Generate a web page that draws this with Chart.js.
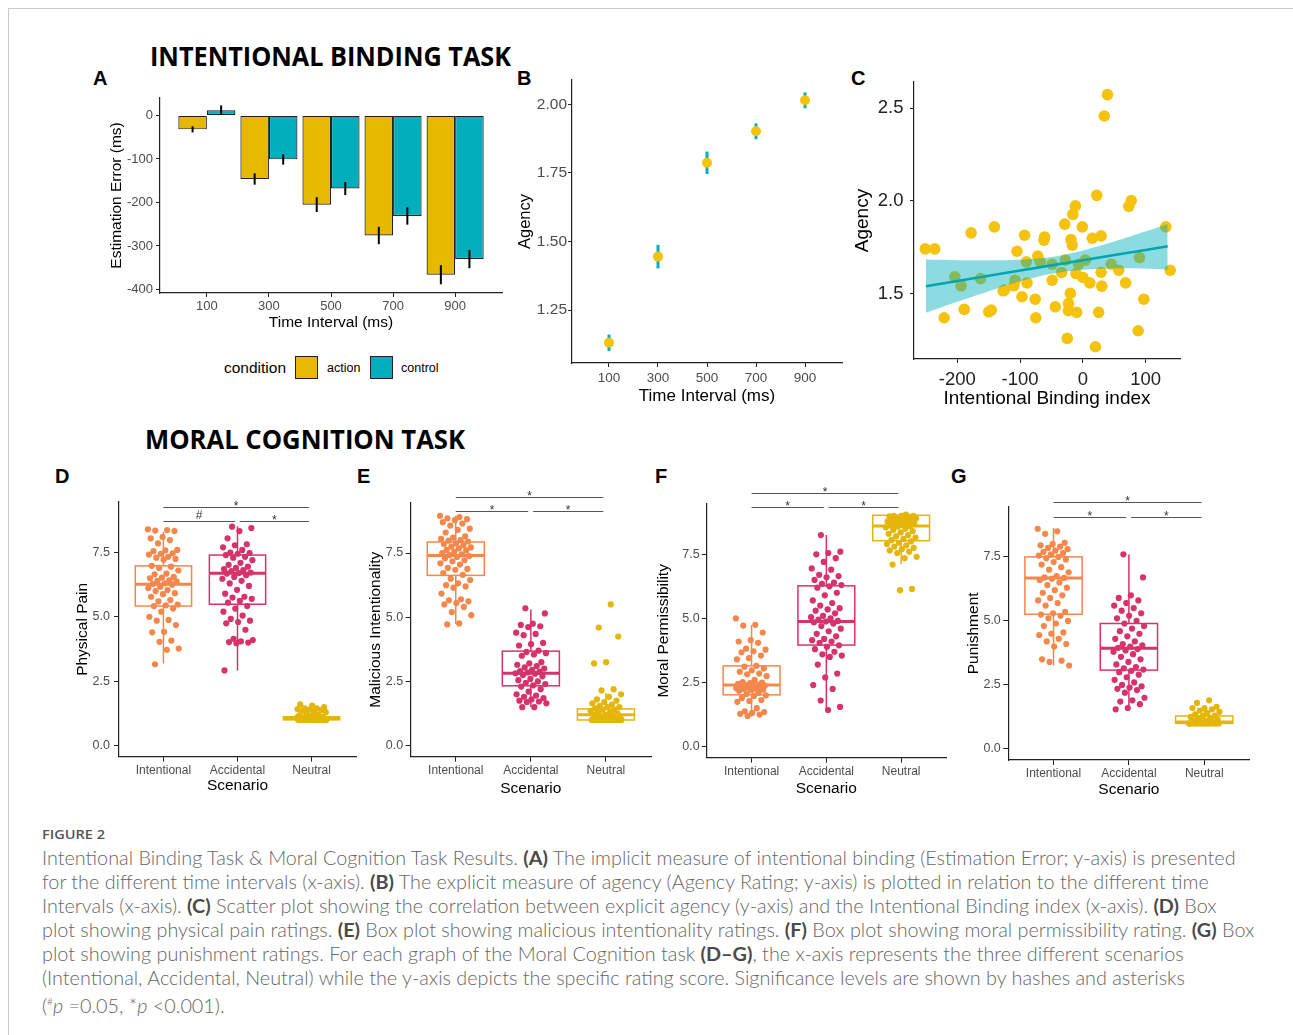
<!DOCTYPE html>
<html>
<head>
<meta charset="utf-8">
<script src="https://cdn.jsdelivr.net/npm/chart.js@4.4.1/dist/chart.umd.min.js"></script>
<style>
  html, body { margin: 0; padding: 0; background: #fff; }
  #page { position: relative; width: 1293px; height: 1035px; overflow: hidden; font-family: "Liberation Sans", Arial, sans-serif; }
  .frame-top { position: absolute; left: 8px; top: 8px; width: 1285px; border-top: 1.5px solid #c8c8c8; }
  .frame-left { position: absolute; left: 8px; top: 8px; height: 1027px; border-left: 1.5px solid #c8c8c8; }
  canvas { position: absolute; }
  .task { position: absolute; font-family: "Open Sans", sans-serif; font-weight: 700; font-size: 27px; line-height: 1; white-space: nowrap; transform-origin: left top; color: #000; }
  .letter { position: absolute; font-weight: 700; font-size: 20px; line-height: 1; color: #000; }
  .legend { position: absolute; top: 356px; height: 24px; line-height: 24px; white-space: nowrap; color: #000; }
  .swatch { position: absolute; top: 356px; width: 21px; height: 21px; border: 1.3px solid #222; }
  #figlabel { position: absolute; left: 42px; top: 826px; font-family: "Open Sans", sans-serif; font-weight: 600; font-size: 13px; line-height: 16px; color: #555; white-space: nowrap; transform-origin: left top; }
  #caption { position: absolute; left: 42px; top: 845px; font-family: Lato, "Open Sans", sans-serif; font-weight: 300; font-size: 17px; line-height: 24px; color: #666; }
  #caption div { white-space: nowrap; }
  #caption b { color: #4a4a4a; font-weight: 700; }
</style>
</head>
<body>
<div id="page">
  <div class="frame-top"></div>
  <div class="frame-left"></div>

  <div class="task" id="titleTop" style="left:150px;top:42px">INTENTIONAL BINDING TASK</div>
  <div class="task" id="titleBottom" style="left:145px;top:425px">MORAL COGNITION TASK</div>

  <div class="letter" style="left:93px;top:68px">A</div>
  <div class="letter" style="left:517px;top:68px">B</div>
  <div class="letter" style="left:851px;top:68px">C</div>
  <div class="letter" style="left:55px;top:466px">D</div>
  <div class="letter" style="left:357px;top:466px">E</div>
  <div class="letter" style="left:655px;top:466px">F</div>
  <div class="letter" style="left:951px;top:466px">G</div>

  <canvas id="chartA" width="410" height="250" style="left:100px;top:90px"></canvas>
  <canvas id="chartB" width="340" height="340" style="left:510px;top:72px"></canvas>
  <canvas id="chartC" width="343" height="340" style="left:845px;top:74px"></canvas>
  <canvas id="chartD" width="300" height="340" style="left:60px;top:470px"></canvas>
  <canvas id="chartE" width="300" height="340" style="left:355px;top:470px"></canvas>
  <canvas id="chartF" width="300" height="340" style="left:650px;top:470px"></canvas>
  <canvas id="chartG" width="310" height="340" style="left:945px;top:470px"></canvas>

  <div class="legend" style="left:224px;font-size:15.5px">condition</div>
  <div class="swatch" style="left:295px;background:#E7B800"></div>
  <div class="legend" style="left:327px;font-size:12.5px">action</div>
  <div class="swatch" style="left:370px;background:#00AFBB"></div>
  <div class="legend" style="left:401px;font-size:12.5px">control</div>

  <div id="figlabel">FIGURE 2</div>
  <div id="caption">
    <div id="capLine1">Intentional Binding Task &amp; Moral Cognition Task Results. <b>(A)</b> The implicit measure of intentional binding (Estimation Error; y-axis) is presented</div>
    <div>for the different time intervals (x-axis). <b>(B)</b> The explicit measure of agency (Agency Rating; y-axis) is plotted in relation to the different time</div>
    <div>Intervals (x-axis). <b>(C)</b> Scatter plot showing the correlation between explicit agency (y-axis) and the Intentional Binding index (x-axis). <b>(D)</b> Box</div>
    <div>plot showing physical pain ratings. <b>(E)</b> Box plot showing malicious intentionality ratings. <b>(F)</b> Box plot showing moral permissibility rating. <b>(G)</b> Box</div>
    <div>plot showing punishment ratings. For each graph of the Moral Cognition task <b>(D–G)</b>, the x-axis represents the three different scenarios</div>
    <div>(Intentional, Accidental, Neutral) while the y-axis depicts the specific rating score. Significance levels are shown by hashes and asterisks</div>
    <div>(<sup style="font-size:10px">#</sup><i>p</i> =0.05, *<i>p</i> &lt;0.001).</div>
  </div>
</div>

<script>
// ---- Panel A: estimation error per interval ----
const intervals = [100, 300, 500, 700, 900];
const errorAction = [-32, -146, -205, -276, -366];
const errorActionSe = [7, 13, 17, 20, 22];
const errorControl = [12, -101, -168, -231, -330];
const errorControlSe = [11, 12, 15, 20, 21];
const errorTicks = [-400, -300, -200, -100, 0];

// ---- Panel B: agency per interval ----
const agencyMean = [1.131, 1.445, 1.787, 1.902, 2.015];
const agencySe = [0.03, 0.043, 0.041, 0.029, 0.029];
const agencyTicks = [1.25, 1.5, 1.75, 2.0];

// ---- Panel C: agency vs intentional binding index ----
const bindingIndex = [-251, -236, -221, -204, -194, -189, -178, -163, -150, -146, -141, -127, -125, -110, -108,
  -105, -97, -93, -90, -89, -76, -75, -72, -68, -62, -61, -49, -49, -44, -34, -29, -28, -25, -23, -23,
  -20, -19, -17, -16, -12, -11, -10, -7, -1, 0, 4, 11, 15, 20, 22, 25, 29, 29, 30, 34, 39, 45, 57, 68,
  73, 77, 88, 90, 97, 132, 139];
const bindingAgency = [1.742, 1.742, 1.371, 1.591, 1.543, 1.416, 1.828, 1.582, 1.403, 1.412, 1.860, 1.516, 1.520, 1.543, 1.573,
  1.729, 1.484, 1.815, 1.672, 1.559, 1.471, 1.371, 1.703, 1.672, 1.789, 1.806, 1.573, 1.659, 1.430, 1.615, 1.875, 1.681, 1.260, 1.448, 1.409,
  1.502, 1.792, 1.762, 1.928, 1.973, 1.609, 1.400, 1.659, 1.860, 1.588, 1.681, 1.559, 1.799, 1.215, 2.030, 1.400, 1.616, 1.812, 1.541, 2.457, 2.572, 1.659, 1.627, 1.559,
  1.971, 2.002, 1.301, 1.695, 1.471, 1.860, 1.627];
const fitX = [-250, -200, -150, -100, -50, 0, 50, 100, 135];
const fitY = [1.541, 1.569, 1.597, 1.625, 1.653, 1.681, 1.709, 1.736, 1.756];
const fitUpper = [1.684, 1.681, 1.680, 1.683, 1.698, 1.733, 1.781, 1.836, 1.876];
const fitLower = [1.398, 1.457, 1.514, 1.567, 1.608, 1.629, 1.637, 1.636, 1.630];
const bindingTicksX = [-200, -100, 0, 100];
const bindingTicksY = [1.5, 2.0, 2.5];

// ---- Panels D-G: ratings per scenario ----
const scenarios = ['Intentional', 'Accidental', 'Neutral'];
const ratingTicks = [0, 2.5, 5, 7.5];

const painIntentional = [8.4, 8.37, 8.35, 8.33, 8.1, 8.05, 7.98, 7.85, 7.6, 7.58, 7.55, 7.47, 7.45, 7.42, 7.33, 7.3, 7.25, 7.22, 6.98, 6.95,
  6.9, 6.8, 6.68, 6.65, 6.55, 6.52, 6.5, 6.42, 6.4, 6.38, 6.3, 6.28, 6.25, 6.17, 6.12, 6.04, 6.0, 5.92, 5.88, 5.78, 5.65, 5.6, 5.48, 5.45,
  5.42, 5.32, 5.2, 5.0, 4.88, 4.85, 4.68, 4.42, 4.4, 4.08, 4.03, 3.77, 3.72, 3.16];
const painAccidental = [8.5, 8.45, 8.33, 8.05, 7.82, 7.78, 7.7, 7.6, 7.5, 7.48, 7.45, 7.4, 7.33, 7.3, 7.2, 7.1, 7.02, 6.95, 6.9, 6.85, 6.82,
  6.78, 6.72, 6.7, 6.68, 6.62, 6.55, 6.48, 6.4, 6.3, 6.2, 6.05, 5.9, 5.78, 5.75, 5.7, 5.62, 5.55, 5.42, 5.32, 5.2, 5.05, 4.92, 4.85, 4.8,
  4.75, 4.5, 4.15, 4.1, 4.05, 4.02, 4.0, 3.98, 2.92];
const painNeutral = [1, 1, 1, 1, 1, 1, 1, 1, 1, 1, 1, 1, 1, 1, 1, 1, 1.02, 1.03, 1.05, 1.05, 1.08, 1.1, 1.1, 1.12, 1.15, 1.18, 1.2, 1.25,
  1.3, 1.32, 1.35, 1.38, 1.4, 1.42, 1.45, 1.45, 1.5, 1.55, 1.6];
const painQ1 = [5.42, 5.49, 1.0];
const painMedian = [6.27, 6.69, 1.05];
const painQ3 = [6.98, 7.40, 1.12];
const painLow = [3.19, 2.92, 1.0];
const painHigh = [8.3, 8.52, 1.2];

const maliceIntentional = [8.95, 8.9, 8.85, 8.82, 8.78, 8.7, 8.65, 8.57, 8.45, 8.4, 8.3, 8.15, 8.1, 8.05, 8.0, 7.98, 7.95, 7.88, 7.85, 7.8,
  7.75, 7.72, 7.68, 7.62, 7.6, 7.55, 7.5, 7.45, 7.42, 7.38, 7.35, 7.3, 7.22, 7.18, 7.1, 7.05, 6.92, 6.88, 6.85, 6.72, 6.65, 6.5, 6.45, 6.32,
  6.25, 6.2, 6.15, 5.92, 5.7, 5.66, 5.62, 5.55, 5.5, 5.4, 5.2, 5.08, 4.76, 4.72];
const maliceAccidental = [5.35, 5.15, 4.75, 4.7, 4.65, 4.62, 4.4, 4.35, 4.3, 4.0, 3.95, 3.9, 3.7, 3.65, 3.6, 3.55, 3.5, 3.25, 3.2, 3.15, 3.1,
  3.05, 3.0, 2.95, 2.9, 2.88, 2.85, 2.82, 2.8, 2.75, 2.7, 2.6, 2.55, 2.5, 2.45, 2.4, 2.35, 2.3, 2.2, 2.1, 2.0, 1.95, 1.9, 1.85, 1.8, 1.75,
  1.72, 1.7, 1.65, 1.5, 1.5];
const maliceNeutral = [5.5, 4.6, 4.25, 3.25, 3.2, 2.2, 2.15, 2.0, 1.9, 1.8, 1.75, 1.7, 1.65, 1.6, 1.55, 1.5, 1.5, 1.45, 1.4, 1.4, 1.35, 1.3,
  1.3, 1.25, 1.2, 1.2, 1.15, 1.1, 1.1, 1.05, 1.05, 1, 1, 1, 1, 1, 1, 1, 1, 1, 1, 1, 1, 1, 1];
const maliceQ1 = [6.63, 2.33, 1.0];
const maliceMedian = [7.4, 2.82, 1.2];
const maliceQ3 = [7.93, 3.68, 1.43];
const maliceLow = [4.74, 1.5, 1.0];
const maliceHigh = [8.95, 5.3, 2.05];

const permitIntentional = [5.0, 4.75, 4.72, 4.45, 4.15, 4.1, 4.05, 3.82, 3.78, 3.72, 3.68, 3.55, 3.45, 3.4, 3.15, 3.12, 3.05, 2.98, 2.92,
  2.85, 2.82, 2.75, 2.6, 2.52, 2.5, 2.48, 2.45, 2.42, 2.4, 2.38, 2.36, 2.34, 2.32, 2.3, 2.28, 2.26, 2.25, 2.22, 2.2, 2.18, 2.1, 2.05, 2.0,
  1.98, 1.9, 1.82, 1.78, 1.75, 1.5, 1.38, 1.35, 1.32, 1.28, 1.25, 1.2];
const permitAccidental = [8.25, 7.6, 7.55, 7.5, 7.35, 7.2, 6.95, 6.9, 6.7, 6.65, 6.6, 6.5, 6.4, 6.35, 6.3, 6.25, 6.2, 6.0, 5.9, 5.7, 5.6,
  5.5, 5.4, 5.35, 5.3, 5.2, 5.1, 5.05, 5.0, 4.95, 4.9, 4.88, 4.85, 4.8, 4.7, 4.6, 4.5, 4.4, 4.3, 4.2, 4.15, 4.1, 4.05, 3.95, 3.9, 3.8, 3.7,
  3.6, 3.55, 3.5, 3.2, 2.85, 2.7, 2.4, 2.25, 1.8, 1.55, 1.43];
const permitNeutral = [9.05, 9.0, 9.0, 9.0, 8.98, 8.95, 8.92, 8.9, 8.88, 8.85, 8.82, 8.8, 8.78, 8.75, 8.72, 8.7, 8.65, 8.62, 8.6, 8.58,
  8.55, 8.5, 8.45, 8.4, 8.35, 8.3, 8.25, 8.2, 8.15, 8.1, 8.05, 8.0, 7.95, 7.9, 7.85, 7.8, 7.75, 7.7, 7.65, 7.6, 7.55, 7.4, 7.35, 7.1, 6.15, 6.1];
const permitQ1 = [2.02, 3.96, 8.03];
const permitMedian = [2.4, 4.88, 8.6];
const permitQ3 = [3.15, 6.27, 9.02];
const permitLow = [1.17, 1.43, 7.11];
const permitHigh = [4.74, 8.25, 9.05];

const punishIntentional = [8.6, 8.5, 8.4, 8.05, 8.0, 7.95, 7.9, 7.85, 7.8, 7.75, 7.7, 7.65, 7.6, 7.55, 7.5, 7.45, 7.4, 7.3, 7.2, 7.1, 7.0,
  6.9, 6.75, 6.7, 6.68, 6.65, 6.6, 6.5, 6.4, 6.3, 6.2, 6.1, 6.0, 5.9, 5.8, 5.7, 5.6, 5.35, 5.3, 5.25, 5.2, 5.1, 5.0, 4.9, 4.8, 4.55, 4.5,
  4.45, 4.3, 4.2, 4.1, 4.0, 3.5, 3.45, 3.4, 3.26];
const punishAccidental = [7.6, 6.7, 6.0, 5.9, 5.8, 5.7, 5.6, 5.5, 5.4, 5.3, 5.2, 5.1, 5.0, 4.9, 4.8, 4.7, 4.6, 4.5, 4.4, 4.3, 4.2, 4.1,
  4.05, 4.0, 3.95, 3.9, 3.85, 3.8, 3.7, 3.6, 3.5, 3.4, 3.3, 3.2, 3.15, 3.1, 3.05, 3.0, 2.9, 2.8, 2.7, 2.6, 2.5, 2.45, 2.4, 2.35, 2.3, 2.2,
  2.0, 1.9, 1.85, 1.75, 1.6, 1.55];
const punishNeutral = [1.9, 1.8, 1.65, 1.6, 1.6, 1.55, 1.5, 1.45, 1.4, 1.35, 1.3, 1.28, 1.25, 1.2, 1.2, 1.15, 1.1, 1.1, 1.05, 1.05, 1, 1,
  1, 1, 1, 1, 1, 1, 1, 1, 1, 1, 1, 1];
const punishQ1 = [5.26, 3.08, 1.0];
const punishMedian = [6.68, 3.93, 1.05];
const punishQ3 = [7.5, 4.9, 1.29];
const punishLow = [3.26, 1.54, 1.0];
const punishHigh = [8.63, 7.59, 1.6];

// ---- styling ----
const FONT = '"Liberation Sans", Arial, sans-serif';
const AXIS = '#222';
const TICK = '#4d4d4d';
const ACTION = '#E7B800';
const CONTROL = '#00AFBB';
const DOT = '#F5C20D';
const GROUP_COLORS = ['#F4874C', '#D6336A', '#E4B50B'];

function makeScale(o) {
  return {
    type: 'linear',
    position: o.horizontal ? 'bottom' : 'left',
    min: o.min,
    max: o.max,
    bounds: 'data',
    offset: false,
    afterBuildTicks: s => { s.ticks = o.ticks.map(v => ({ value: v })); },
    afterFit: s => {
      if (o.horizontal) s.height = o.box; else s.width = o.box;
      s.paddingLeft = s.paddingRight = s.paddingTop = s.paddingBottom = 0;
    },
    grid: { display: true, drawOnChartArea: false, drawTicks: true, tickLength: o.tl, color: AXIS, lineWidth: 1, offset: false },
    border: { display: true, color: AXIS, width: 1.2 },
    ticks: { autoSkip: false, maxRotation: 0, padding: o.pad, color: o.color || TICK,
             font: { family: FONT, size: o.size }, callback: o.fmt },
    title: { display: true, text: o.title, color: '#000', font: { family: FONT, size: o.titleSize },
             padding: o.horizontal ? { top: 0, bottom: o.titlePad } : { top: o.titlePad, bottom: 0 } }
  };
}

function baseOptions(padding, x, y) {
  return {
    responsive: false, animation: false, events: [], devicePixelRatio: 1,
    layout: { padding },
    plugins: { legend: { display: false }, tooltip: { enabled: false } },
    scales: { x, y }
  };
}

// vertical error bars, drawn from each dataset's se array
function errorBarPlugin(id, hook, color, width) {
  return {
    id,
    [hook](chart) {
      const ctx = chart.ctx, ys = chart.scales.y;
      ctx.save();
      ctx.strokeStyle = color;
      ctx.lineWidth = width;
      chart.data.datasets.forEach((ds, di) => {
        if (!ds.se) return;
        chart.getDatasetMeta(di).data.forEach((el, j) => {
          const v = ds.data[j].y, e = ds.se[j];
          ctx.beginPath();
          ctx.moveTo(el.x, ys.getPixelForValue(v - e));
          ctx.lineTo(el.x, ys.getPixelForValue(v + e));
          ctx.stroke();
        });
      });
      ctx.restore();
    }
  };
}

// ---- A ----
new Chart(document.getElementById('chartA'), {
  type: 'bar',
  data: {
    datasets: [
      { label: 'action', data: intervals.map((x, i) => ({ x, y: errorAction[i] })), se: errorActionSe,
        backgroundColor: ACTION, borderColor: '#222', borderWidth: 1.2, borderSkipped: false,
        categoryPercentage: 0.92, barPercentage: 1 },
      { label: 'control', data: intervals.map((x, i) => ({ x, y: errorControl[i] })), se: errorControlSe,
        backgroundColor: CONTROL, borderColor: '#222', borderWidth: 1.2, borderSkipped: false,
        categoryPercentage: 0.92, barPercentage: 1 }
    ]
  },
  options: baseOptions({ left: 0, top: 8, right: 8, bottom: 0 },
    makeScale({ horizontal: true, min: -51, max: 1051, ticks: intervals, fmt: v => String(v), box: 47, tl: 4, pad: 2,
                size: 13, title: 'Time Interval (ms)', titleSize: 15.5, titlePad: 7.7 }),
    makeScale({ min: -408, max: 40, ticks: errorTicks, fmt: v => String(v), box: 60, tl: 4, pad: 3,
                size: 13, title: 'Estimation Error (ms)', titleSize: 15.5, titlePad: 7.4 })),
  plugins: [errorBarPlugin('errA', 'afterDatasetsDraw', '#000', 2)]
});

// ---- B ----
new Chart(document.getElementById('chartB'), {
  type: 'scatter',
  data: {
    datasets: [{ data: intervals.map((x, i) => ({ x, y: agencyMean[i] })), se: agencySe,
                 pointRadius: 5, pointBackgroundColor: DOT, pointBorderWidth: 0 }]
  },
  options: baseOptions({ left: 0, top: 8, right: 8, bottom: 0 },
    makeScale({ horizontal: true, min: -51, max: 1051, ticks: intervals, fmt: v => String(v), box: 49, tl: 4, pad: 3,
                size: 13.5, title: 'Time Interval (ms)', titleSize: 17, titlePad: 5 }),
    makeScale({ min: 1.057, max: 2.089, ticks: agencyTicks, fmt: v => v.toFixed(2), box: 62, tl: 4, pad: 1,
                size: 15.5, title: 'Agency', titleSize: 16.5, titlePad: 5.2 })),
  plugins: [errorBarPlugin('errB', 'beforeDatasetsDraw', '#00AFBB', 3)]
});

// ---- C ----
new Chart(document.getElementById('chartC'), {
  type: 'scatter',
  data: {
    datasets: [
      { type: 'line', data: fitX.map((x, i) => ({ x, y: fitY[i] })), borderColor: '#00A6B2', borderWidth: 2.6,
        pointRadius: 0, tension: 0 },
      { type: 'line', data: fitX.map((x, i) => ({ x, y: fitUpper[i] })), borderWidth: 0, pointRadius: 0,
        tension: 0.3, fill: '+1', backgroundColor: 'rgba(0,175,187,0.45)' },
      { type: 'line', data: fitX.map((x, i) => ({ x, y: fitLower[i] })), borderWidth: 0, pointRadius: 0,
        tension: 0.3, fill: false },
      { data: bindingIndex.map((x, i) => ({ x, y: bindingAgency[i] })), pointRadius: 5.8,
        pointBackgroundColor: DOT, pointBorderWidth: 0 }
    ]
  },
  options: baseOptions({ left: 0, top: 8, right: 8, bottom: 0 },
    makeScale({ horizontal: true, min: -269, max: 154.6, ticks: bindingTicksX, fmt: v => String(v), box: 55, tl: 4, pad: 6,
                size: 18.5, color: '#222', title: 'Intentional Binding index', titleSize: 19, titlePad: 4.3 }),
    makeScale({ min: 1.149, max: 2.64, ticks: bindingTicksY, fmt: v => v.toFixed(1), box: 69, tl: 4, pad: 6.5,
                size: 18.5, color: '#222', title: 'Agency', titleSize: 19, titlePad: 6 }))
});

// ---- D-G box plots ----
// deterministic horizontal jitter for the dots (display only)
function jitter(i) { return (((i * 0.6180339887) % 1) - 0.5) * 0.42; }

const boxPlugin = {
  id: 'boxes',
  beforeDatasetsDraw(chart) {
    const b = chart.options.plugins.boxes;
    const ctx = chart.ctx, xs = chart.scales.x, ys = chart.scales.y;
    ctx.save();
    for (let g = 0; g < 3; g++) {
      const cx = xs.getPixelForValue(g + 1);
      const hw = xs.getPixelForValue(g + 1.38) - cx;
      const q1 = ys.getPixelForValue(b.q1[g]), q3 = ys.getPixelForValue(b.q3[g]);
      ctx.strokeStyle = GROUP_COLORS[g];
      ctx.lineWidth = 1.5;
      ctx.beginPath();
      ctx.moveTo(cx, ys.getPixelForValue(b.high[g])); ctx.lineTo(cx, q3);
      ctx.moveTo(cx, q1); ctx.lineTo(cx, ys.getPixelForValue(b.low[g]));
      ctx.stroke();
      ctx.fillStyle = '#fff';
      ctx.fillRect(cx - hw, q3, 2 * hw, q1 - q3);
      ctx.strokeRect(cx - hw, q3, 2 * hw, q1 - q3);
      const m = ys.getPixelForValue(b.median[g]);
      ctx.lineWidth = 3;
      ctx.beginPath(); ctx.moveTo(cx - hw, m); ctx.lineTo(cx + hw, m); ctx.stroke();
    }
    ctx.restore();
  },
  afterDraw(chart) {
    const b = chart.options.plugins.boxes;
    const ctx = chart.ctx, xs = chart.scales.x, ys = chart.scales.y;
    const brackets = [
      [1, 1.965, b.sigLow, b.labels[0]],
      [2.03, 2.965, b.sigLow, b.labels[1]],
      [1, 2.965, b.sigTop, b.labels[2]]
    ];
    ctx.save();
    ctx.strokeStyle = '#555';
    ctx.fillStyle = '#333';
    ctx.lineWidth = 1.1;
    ctx.font = '12px ' + FONT;
    ctx.textAlign = 'center';
    ctx.textBaseline = 'alphabetic';
    brackets.forEach(([a, z, lvl, lab]) => {
      const y = Math.round(ys.getPixelForValue(lvl)) + 0.5;
      ctx.beginPath();
      ctx.moveTo(xs.getPixelForValue(a), y);
      ctx.lineTo(xs.getPixelForValue(z), y);
      ctx.stroke();
      ctx.fillText(lab, xs.getPixelForValue((a + z) / 2), lab === '#' ? y - 3 : y + 2);
    });
    ctx.restore();
  }
};

function panel(id, groups, stats, layout) {
  const opts = baseOptions({ left: 0, top: layout.top, right: layout.right, bottom: 0 },
    makeScale({ horizontal: true, min: 0.4, max: 3.6, ticks: [1, 2, 3], fmt: v => scenarios[v - 1], box: layout.xBox,
                tl: 5, pad: 1.5, size: 12, title: 'Scenario', titleSize: 15.5, titlePad: layout.xTitlePad }),
    makeScale({ min: -0.43, max: 9.46, ticks: ratingTicks, fmt: v => v.toFixed(1), box: layout.yBox,
                tl: 5, pad: layout.yPad, size: 12.5, title: layout.title, titleSize: 15.5, titlePad: layout.yTitlePad }));
  opts.plugins.boxes = stats;
  new Chart(document.getElementById(id), {
    type: 'scatter',
    data: {
      datasets: groups.map((vals, g) => ({
        data: vals.map((v, i) => ({ x: g + 1 + jitter(i + g * 7), y: v })),
        pointRadius: 3.1, pointBackgroundColor: GROUP_COLORS[g], pointBorderWidth: 0
      }))
    },
    options: opts,
    plugins: [boxPlugin]
  });
}

panel('chartD', [painIntentional, painAccidental, painNeutral],
  { q1: painQ1, median: painMedian, q3: painQ3, low: painLow, high: painHigh, sigLow: 8.705, sigTop: 9.25, labels: ['#', '*', '*'] },
  { top: 32, right: 2, yBox: 59, xBox: 53.3, yPad: 4, yTitlePad: 13.2, xTitlePad: 14.5, title: 'Physical Pain' });
panel('chartE', [maliceIntentional, maliceAccidental, maliceNeutral],
  { q1: maliceQ1, median: maliceMedian, q3: maliceQ3, low: maliceLow, high: maliceHigh, sigLow: 9.13, sigTop: 9.67, labels: ['*', '*', '*'] },
  { top: 32.7, right: 4, yBox: 55.7, xBox: 53.3, yPad: 2.5, yTitlePad: 11.7, xTitlePad: 12.4, title: 'Malicious Intentionality' });
panel('chartF', [permitIntentional, permitAccidental, permitNeutral],
  { q1: permitQ1, median: permitMedian, q3: permitQ3, low: permitLow, high: permitHigh, sigLow: 9.33, sigTop: 9.90, labels: ['*', '*', '*'] },
  { top: 34, right: 2, yBox: 56.7, xBox: 52.3, yPad: 2, yTitlePad: 4.9, xTitlePad: 12.4, title: 'Moral Permissibility' });
panel('chartG', [punishIntentional, punishAccidental, punishNeutral],
  { q1: punishQ1, median: punishMedian, q3: punishQ3, low: punishLow, high: punishHigh, sigLow: 9.05, sigTop: 9.63, labels: ['*', '*', '*'] },
  { top: 36.7, right: 5.5, yBox: 63.3, xBox: 50, yPad: 2.5, yTitlePad: 19.7, xTitlePad: 10.7, title: 'Punishment' });

// ---- squeeze headings / caption to the widths in the figure ----
function squeeze(el, target) {
  const w = el.getBoundingClientRect().width;
  el.style.transform = 'scaleX(' + (target / w) + ')';
}
squeeze(document.getElementById('titleTop'), 361);
squeeze(document.getElementById('titleBottom'), 320);
squeeze(document.getElementById('figlabel'), 63);
(function () {
  const cap = document.getElementById('caption');
  const line = document.getElementById('capLine1');
  line.style.display = 'inline-block';
  const w = line.getBoundingClientRect().width;
  cap.style.fontSize = (17 * 1194 / w) + 'px';
  line.style.display = 'block';
})();
</script>
</body>
</html>
